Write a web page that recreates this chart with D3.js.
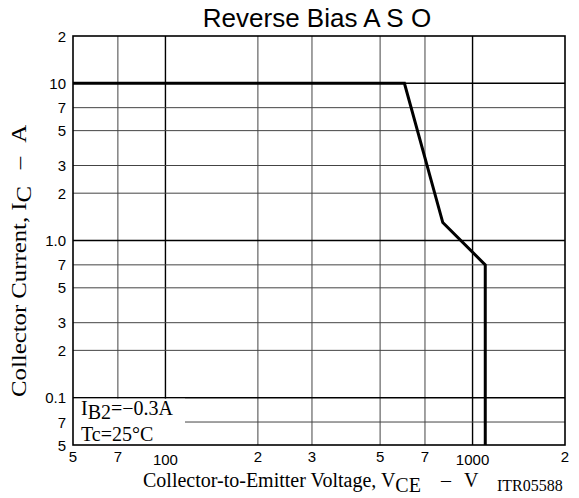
<!DOCTYPE html>
<html><head><meta charset="utf-8">
<script src="https://cdn.jsdelivr.net/npm/d3@7"></script>
<style>body{margin:0;background:#fff}svg{display:block}</style>
</head><body>
<script>
// Data
const curveV = [50, 600, 800, 1100, 1100];
const curveI = [10, 10, 1.3, 0.7, 0.05];
const xTickValues = [50, 70, 100, 200, 300, 500, 700, 1000, 2000];
const xTickLabels = ["5", "7", "100", "2", "3", "5", "7", "1000", "2"];
const yTickValues = [20, 10, 7, 5, 3, 2, 1, 0.7, 0.5, 0.3, 0.2, 0.1, 0.07, 0.05];
const yTickLabels = ["2", "10", "7", "5", "3", "2", "1.0", "7", "5", "3", "2", "0.1", "7", "5"];
const decadesX = [100, 1000];
const decadesY = [10, 1, 0.1];

const W = 579, H = 498;
const L = 73, R = 565, T = 36, B = 445;
const svg = d3.select("body").append("svg").attr("width", W).attr("height", H);
const x = d3.scaleLog().domain([50, 2000]).range([L, R]);
const y = d3.scaleLog().domain([0.05, 20]).range([B, T]);
const sans = "'Liberation Sans', Arial, sans-serif";
const serif = "'Liberation Serif', 'Times New Roman', serif";

// grid
const g = svg.append("g");
xTickValues.slice(1, -1).forEach(v => {
  g.append("line").attr("x1", x(v)).attr("x2", x(v)).attr("y1", T).attr("y2", B)
    .attr("stroke", decadesX.includes(v) ? "#000" : "#444").attr("stroke-width", decadesX.includes(v) ? 1.4 : 1);
});
yTickValues.slice(1, -1).forEach(v => {
  g.append("line").attr("x1", L).attr("x2", R).attr("y1", y(v)).attr("y2", y(v))
    .attr("stroke", decadesY.includes(v) ? "#000" : "#444").attr("stroke-width", decadesY.includes(v) ? 1.4 : 1);
});

// legend box (covers grid below the 0.1 line)
const boxTop = y(0.1) + 1;
svg.append("rect").attr("x", L).attr("y", boxTop).attr("width", 112).attr("height", B - boxTop).attr("fill", "#fff");
const lt = svg.append("text").attr("x", 81).attr("y", 415).attr("font-family", serif).attr("font-size", 20);
lt.append("tspan").text("I");
lt.append("tspan").attr("dy", 4).text("B2");
lt.append("tspan").attr("dy", -4).text("=\u22120.3A");
svg.append("text").attr("x", 81).attr("y", 441).attr("font-family", serif).attr("font-size", 20).text("Tc=25\u00B0C");

// frame
svg.append("rect").attr("x", L).attr("y", T).attr("width", R - L).attr("height", B - T)
  .attr("fill", "none").attr("stroke", "#000").attr("stroke-width", 1.6);

// curve
const line = d3.line().x((d, i) => x(curveV[i])).y((d, i) => y(curveI[i]));
svg.append("path").datum(curveV).attr("d", line).attr("fill", "none")
  .attr("stroke", "#000").attr("stroke-width", 3).attr("stroke-linejoin", "miter");

// y tick labels
yTickValues.forEach((v, i) => {
  svg.append("text").attr("x", 66).attr("y", y(v) + 5.5).attr("text-anchor", "end")
    .attr("font-family", sans).attr("font-size", 15).text(yTickLabels[i]);
});
// x tick labels
xTickValues.forEach((v, i) => {
  const low = decadesX.includes(v);
  svg.append("text").attr("x", x(v)).attr("y", low ? 465 : 462).attr("text-anchor", "middle")
    .attr("font-family", sans).attr("font-size", 15).text(xTickLabels[i]);
});

// title
svg.append("text").attr("x", 317).attr("y", 27).attr("text-anchor", "middle")
  .attr("font-family", sans).attr("font-size", 26).text("Reverse Bias A S O");

// x axis title
const xt = svg.append("text").attr("x", 143).attr("y", 487).attr("font-family", serif).attr("font-size", 20);
xt.append("tspan").text("Collector-to-Emitter Voltage, V");
xt.append("tspan").attr("dy", 5).text("CE");
xt.append("tspan").attr("dy", -5).attr("dx", 20).text("\u2013");
xt.append("tspan").attr("dx", 13).text("V");
svg.append("text").attr("x", 497).attr("y", 491).attr("font-family", serif).attr("font-size", 16).text("ITR05588");

// y axis title (slightly stretched along the text direction, as in the reference)
const yt = svg.append("text").attr("transform", "translate(26,397) rotate(-90) scale(1.18,1)")
  .attr("text-anchor", "start").attr("font-family", serif).attr("font-size", 21);
yt.append("tspan").text("Collector Current, I");
yt.append("tspan").attr("dy", 5).text("C");
yt.append("tspan").attr("dy", -5).attr("dx", 14).text("\u2013");
yt.append("tspan").attr("dx", 12).text("A");
</script>
</body></html>
